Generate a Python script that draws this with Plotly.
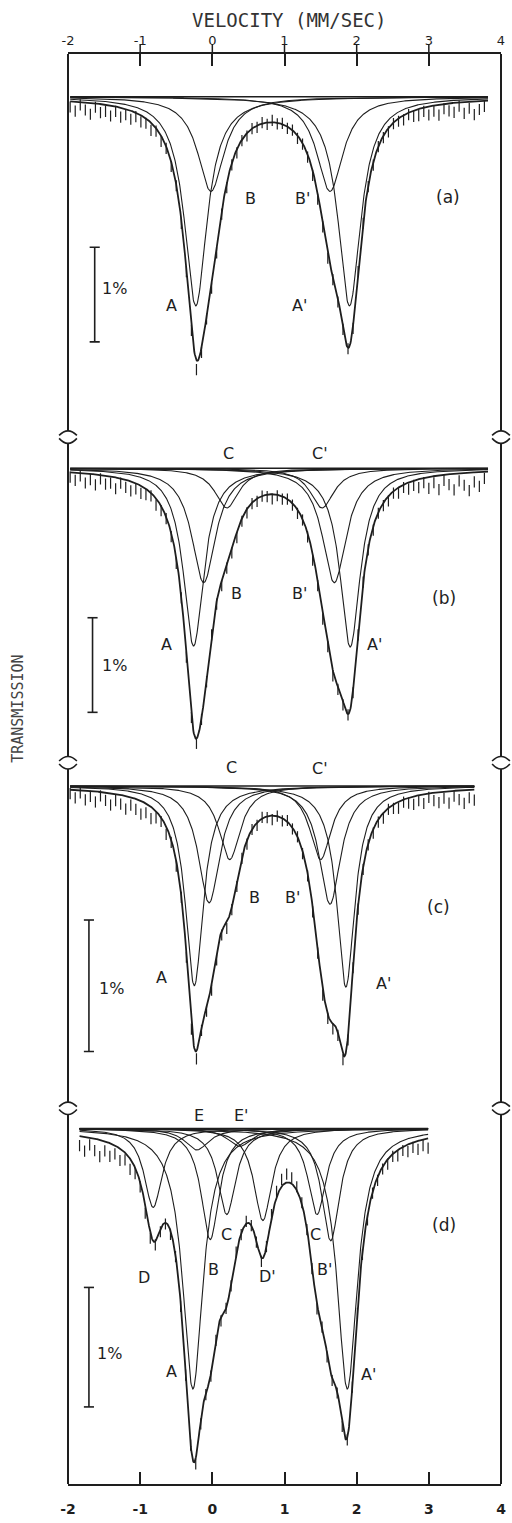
import numpy as np
import plotly.graph_objects as go

# ------------------------------------------------------------------ data
x_ticks = [-2, -1, 0, 1, 2, 3, 4]
x_tick_labels = ["-2", "-1", "0", "1", "2", "3", "4"]
x_title = "VELOCITY (MM/SEC)"
y_title = "TRANSMISSION"

# panel (a): Lorentzian components (centre mm/s, depth %, half width mm/s)
a_centers = [-0.23, 1.90, -0.02, 1.63]
a_depths = [2.21, 2.21, 1.00, 1.00]
a_hwhm = [0.19, 0.19, 0.22, 0.22]
a_vrange = [-1.97, 3.82]
a_resid = [0.06, 0.10, 0.03, 0.08, 0.12, 0.04, 0.09, 0.07, 0.11, 0.05, 0.10, 0.06, 0.09, 0.04, 0.07,
           0.05, 0.08, 0.03, 0.06, 0.02, 0.05, 0.01, 0.04, 0.02,
           0.03, 0.10, 0.05, 0.02, 0.04,
           0.06, 0.03, 0.05, 0.02, 0.04, 0.01, 0.03,
           0.00, 0.02, -0.01, 0.02, -0.02, 0.01, -0.01, 0.02, 0.00, 0.03, 0.01,
           0.03, 0.05, 0.06, 0.04, 0.05, 0.03, 0.04,
           0.02, 0.01, 0.03, 0.00, 0.02,
           0.01, 0.03, 0.00, 0.02, 0.04, 0.01, 0.03, 0.05, 0.02, 0.06,
           0.07, 0.04, 0.09, 0.06, 0.11, 0.05, 0.08, 0.10, 0.04, 0.12, 0.07, 0.14, 0.09, 0.06]
a_labels = ["B", "B'", "(a)", "A", "A'", "1%"]
a_label_v = [0.53, 1.25, 3.26, -0.56, 1.21, -1.36]
a_label_d = [1.08, 1.08, 1.06, 2.21, 2.21, 2.03]
a_bar = [-1.63, 1.59]   # scale bar: velocity, top depth (length 1 %)

# panel (b)
b_centers = [-0.26, 1.91, -0.12, 1.69, 0.20, 1.52]
b_depths = [1.88, 1.89, 1.21, 1.21, 0.42, 0.42]
b_hwhm = [0.17, 0.17, 0.20, 0.20, 0.20, 0.20]
b_vrange = [-1.97, 3.82]
b_resid = [0.05, 0.08, 0.03, 0.10, 0.06, 0.11, 0.04, 0.09, 0.07, 0.12, 0.05, 0.08, 0.10, 0.06, 0.08,
           0.06, 0.03, 0.07, 0.05, 0.02, 0.04, 0.06, 0.01, 0.03,
           0.02, 0.05, 0.01, 0.03, 0.00,
           0.03, 0.05, 0.02, 0.04, 0.06, 0.03, 0.04,
           0.01, 0.03, 0.00, 0.02, 0.05, 0.01, 0.03, 0.00, 0.02, 0.04, 0.01,
           0.04, 0.07, 0.05, 0.08, 0.04, 0.06, 0.03,
           0.04, 0.01, 0.03, 0.02, 0.00,
           0.02, 0.04, 0.01, 0.03, 0.05, 0.02, 0.06, 0.03, 0.07, 0.05,
           0.09, 0.05, 0.12, 0.07, 0.15, 0.06, 0.11, 0.17, 0.08, 0.13, 0.19, 0.10, 0.15, 0.07]
b_labels = ["C", "C'", "B", "B'", "(b)", "A", "A'", "1%"]
b_label_v = [0.22, 1.49, 0.33, 1.21, 3.21, -0.64, 2.25, -1.36]
b_label_d = [-0.16, -0.16, 1.32, 1.32, 1.37, 1.86, 1.86, 2.08]
b_bar = [-1.66, 1.58]

# panel (c)
c_centers = [-0.25, 1.85, -0.045, 1.63, 0.24, 1.50]
c_depths = [1.52, 1.53, 0.89, 0.90, 0.56, 0.56]
c_hwhm = [0.15, 0.15, 0.18, 0.18, 0.18, 0.18]
c_vrange = [-1.97, 3.63]
c_resid = [0.03, 0.06, 0.02, 0.07, 0.04, 0.08, 0.03, 0.06, 0.09, 0.05, 0.07, 0.10, 0.06, 0.08, 0.10,
           0.07, 0.09, 0.05, 0.03, 0.06, 0.02, 0.04, 0.01, 0.03,
           0.04, 0.06, 0.02, 0.03, 0.05,
           0.06, 0.03, 0.05, 0.02, 0.04, 0.01, 0.03,
           0.00, 0.02, -0.01, 0.01, 0.03, 0.00, 0.02, -0.01, 0.01, 0.00, 0.02,
           0.02, 0.04, 0.03, 0.05, 0.03, 0.04, 0.02,
           0.04, 0.03, 0.01, 0.03, 0.02,
           0.01, 0.03, 0.02, 0.04, 0.01, 0.03, 0.05, 0.02, 0.04, 0.06,
           0.04, 0.07, 0.03, 0.06, 0.08, 0.05, 0.09, 0.04, 0.07, 0.10, 0.06, 0.08]
c_labels = ["C", "C'", "B", "B'", "(c)", "A", "A'", "1%"]
c_label_v = [0.26, 1.49, 0.59, 1.11, 3.14, -0.71, 2.37, -1.40]
c_label_d = [-0.14, -0.13, 0.85, 0.85, 0.92, 1.46, 1.50, 1.54]
c_bar = [-1.71, 1.02]

# panel (d)
d_centers = [-0.27, 1.87, -0.03, 1.64, 0.20, 1.45, -0.82, 0.70, -0.215, 0.38]
d_depths = [2.18, 2.18, 0.93, 0.94, 0.72, 0.72, 0.66, 0.77, 0.18, 0.15]
d_hwhm = [0.17, 0.17, 0.15, 0.15, 0.15, 0.15, 0.15, 0.15, 0.20, 0.20]
d_vrange = [-1.84, 2.99]
d_resid = [0.08, 0.12, 0.06, 0.10, 0.14, 0.08, 0.11, 0.07, 0.10, 0.06, 0.09, 0.05,
           0.04, 0.07, 0.05, 0.03, 0.02, 0.01,
           0.03, 0.01, 0.04, 0.02, 0.00, 0.05, 0.03, 0.01, 0.02,
           0.01, 0.03, 0.00, 0.02, -0.01, 0.01, -0.02, 0.00,
           0.01, 0.03, 0.00, -0.03, -0.05, -0.06,
           -0.07, -0.05, -0.03, -0.01, 0.01,
           0.02, 0.04, 0.01, 0.03, 0.02, 0.01, 0.03, 0.02,
           0.01, 0.03, 0.02, 0.04, 0.01, 0.03, 0.02,
           0.04, 0.02, 0.05, 0.03, 0.06, 0.04, 0.07, 0.05, 0.08]
d_labels = ["E", "E'", "C", "C", "D", "B", "D'", "B'", "(d)", "A", "A'", "1%"]
d_label_v = [-0.19, 0.40, 0.19, 1.43, -0.95, 0.01, 0.77, 1.55, 3.21, -0.56, 2.16, -1.43]
d_label_d = [-0.11, -0.11, 0.89, 0.89, 1.25, 1.18, 1.24, 1.18, 0.81, 2.03, 2.06, 1.88]
d_bar = [-1.71, 1.33]

channel_step = 0.07

# ------------------------------------------------------------------ layout geometry (pixels)
W, H = 512, 1523
PL, PR, PT, PB = 68, 506, 54, 1490
# (top, bottom, baseline, px per 1 %)
panel_geom = [(54, 438, 97, 95), (438, 765, 470, 95), (765, 1112, 789, 132), (1112, 1490, 1133, 120)]

INK = "#1e1e1e"


def py2paper(py):
    return (PB - py) / (PB - PT)


def px2paper(px):
    return (px - PL) / (PR - PL)


def lorentz(v, c, d, h):
    return d / (1.0 + ((v - c) / h) ** 2)


panels = [
    (a_centers, a_depths, a_hwhm, a_vrange, a_resid, a_labels, a_label_v, a_label_d, a_bar),
    (b_centers, b_depths, b_hwhm, b_vrange, b_resid, b_labels, b_label_v, b_label_d, b_bar),
    (c_centers, c_depths, c_hwhm, c_vrange, c_resid, c_labels, c_label_v, c_label_d, c_bar),
    (d_centers, d_depths, d_hwhm, d_vrange, d_resid, d_labels, d_label_v, d_label_d, d_bar),
]

fig = go.Figure()
annotations = []
layout_axes = {}

for i, (cen, dep, hw, vr, res, labs, lv, ld, bar) in enumerate(panels):
    n = i + 1
    xa = "x" if n == 1 else f"x{n}"
    ya = "y" if n == 1 else f"y{n}"
    vfine = np.linspace(vr[0], vr[1], 900)
    env = np.zeros_like(vfine)
    fig.add_trace(go.Scatter(x=vr, y=[0, 0], mode="lines", line=dict(color=INK, width=1.6),
                             xaxis=xa, yaxis=ya, showlegend=False, hoverinfo="skip"))
    for c, d, h in zip(cen, dep, hw):
        comp = lorentz(vfine, c, d, h)
        env += comp
        fig.add_trace(go.Scatter(x=vfine, y=comp, mode="lines", line=dict(color=INK, width=1.1),
                                 xaxis=xa, yaxis=ya, showlegend=False, hoverinfo="skip"))
    fig.add_trace(go.Scatter(x=vfine, y=env, mode="lines", line=dict(color=INK, width=1.8),
                             xaxis=xa, yaxis=ya, showlegend=False, hoverinfo="skip"))
    vdata = vr[0] + channel_step * np.arange(len(res))
    model = np.zeros_like(vdata)
    for c, d, h in zip(cen, dep, hw):
        model += lorentz(vdata, c, d, h)
    ydata = model + np.array(res)
    fig.add_trace(go.Scatter(x=vdata, y=ydata, mode="markers",
                             marker=dict(symbol="line-ns", size=8, line=dict(color=INK, width=1.2)),
                             xaxis=xa, yaxis=ya, showlegend=False, hoverinfo="skip"))
    bx, btop = bar
    cap = 0.07
    fig.add_trace(go.Scatter(x=[bx, bx, None, bx - cap, bx + cap, None, bx - cap, bx + cap],
                             y=[btop, btop + 1.0, None, btop, btop, None, btop + 1.0, btop + 1.0],
                             mode="lines", line=dict(color=INK, width=1.6),
                             xaxis=xa, yaxis=ya, showlegend=False, hoverinfo="skip"))
    for t, v, dd in zip(labs, lv, ld):
        annotations.append(dict(text=t, x=v, y=dd, xref=xa, yref=ya, showarrow=False,
                                font=dict(family="DejaVu Sans", size=16 if not t.startswith("(") else 17,
                                          color=INK),
                                xanchor="center", yanchor="middle"))
    top, bot, base, scale = panel_geom[i]
    yrange = [(bot - base) / scale, -(base - top) / scale]
    layout_axes["yaxis" if n == 1 else f"yaxis{n}"] = dict(
        domain=[py2paper(bot), py2paper(top)], range=yrange, visible=False, anchor=xa)
    xdict = dict(range=[-2, 4], domain=[0, 1], anchor=ya, showgrid=False, zeroline=False)
    if n == 1:
        xdict.update(side="top", showline=True, linecolor=INK, linewidth=2, ticks="inside",
                     ticklen=12, tickwidth=1.5, tickcolor=INK, tickvals=x_ticks, ticktext=x_tick_labels,
                     tickfont=dict(family="DejaVu Sans", size=13, color=INK), ticklabelstandoff=2)
    elif n == 4:
        xdict.update(side="bottom", showline=True, linecolor=INK, linewidth=2, ticks="inside",
                     ticklen=12, tickwidth=1.5, tickcolor=INK, tickvals=x_ticks, ticktext=x_tick_labels,
                     tickfont=dict(family="DejaVu Sans", size=14, color=INK, weight="bold"),
                     ticklabelstandoff=11)
    else:
        xdict.update(visible=False)
    layout_axes["xaxis" if n == 1 else f"xaxis{n}"] = xdict

# ------------------------------------------------------------------ frame (left / right) with break marks
shapes = []
breaks = [panel_geom[0][1], panel_geom[1][1], panel_geom[2][1]]
up_gap, dn_gap, arm = 5.5, 7.0, 9.0
for sx in (PL, PR):
    xp = px2paper(sx)
    ys = [PT] + [v for b in breaks for v in (b - up_gap, b + dn_gap)] + [PB]
    for k in range(0, len(ys), 2):
        shapes.append(dict(type="line", xref="paper", yref="paper", x0=xp, x1=xp,
                           y0=py2paper(ys[k]), y1=py2paper(ys[k + 1]),
                           line=dict(color=INK, width=2)))
    for b in breaks:
        xl, xr = px2paper(sx - arm), px2paper(sx + arm)
        p1 = (f"M {xl},{py2paper(b - 1)} Q {xp},{py2paper(b - 10)} {xr},{py2paper(b - 1)}")
        p2 = (f"M {xl},{py2paper(b + 2)} Q {xp},{py2paper(b + 12)} {xr},{py2paper(b + 2)}")
        for p in (p1, p2):
            shapes.append(dict(type="path", xref="paper", yref="paper", path=p,
                               line=dict(color=INK, width=1.6)))

for t in x_ticks[1:-1]:
    shapes.append(dict(type="line", xref="x", yref="paper", x0=t, x1=t,
                       y0=py2paper(PT), y1=py2paper(PT - 10), line=dict(color=INK, width=1.5)))

annotations.append(dict(text=x_title, x=px2paper(292), y=py2paper(20), xref="paper", yref="paper",
                        showarrow=False, font=dict(family="DejaVu Sans Mono", size=19, color="#333"),
                        xanchor="center", yanchor="middle"))
annotations.append(dict(text=y_title, x=px2paper(18), y=py2paper(712), xref="paper", yref="paper",
                        showarrow=False, textangle=-90,
                        font=dict(family="DejaVu Sans Mono", size=15, color="#444"),
                        xanchor="center", yanchor="middle"))

fig.update_layout(width=W, height=H, margin=dict(l=PL, r=W - PR, t=PT, b=H - PB),
                  paper_bgcolor="white", plot_bgcolor="white", showlegend=False,
                  annotations=annotations, shapes=shapes, **layout_axes)

fig.write_html("out.html", config={"displayModeBar": False},
               post_script="document.body.style.margin='0';document.body.style.padding='0';")
